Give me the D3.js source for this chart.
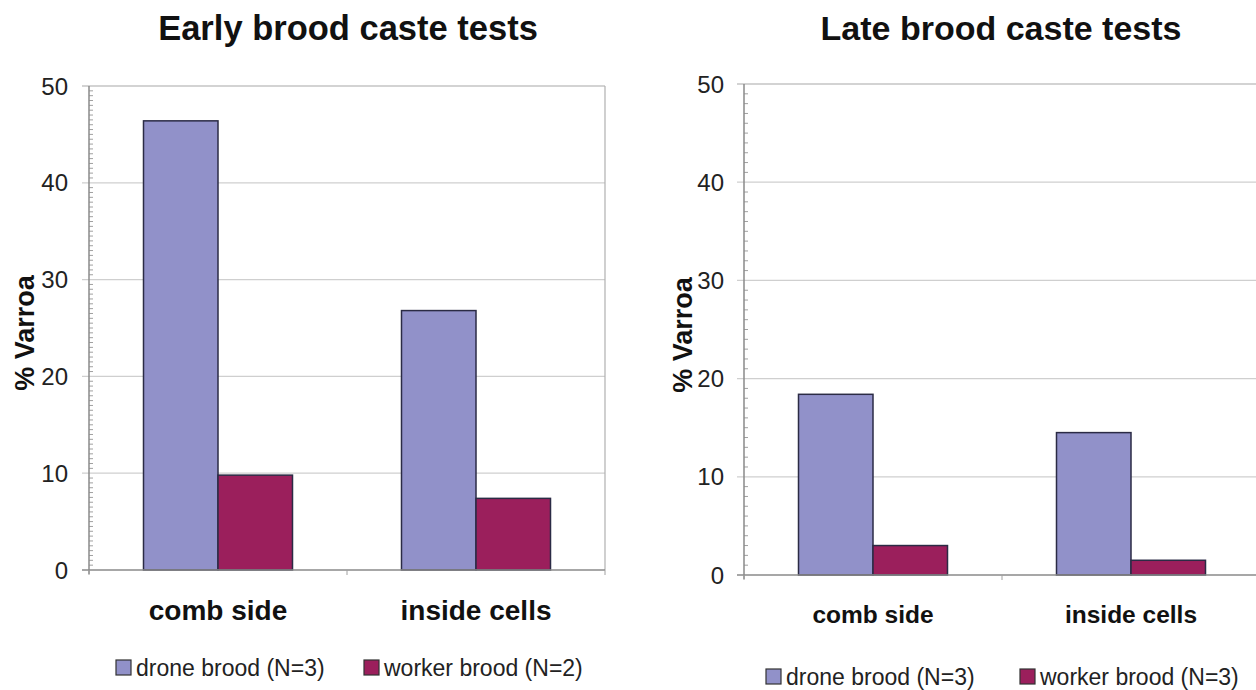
<!DOCTYPE html>
<html>
<head>
<meta charset="utf-8">
<script src="https://cdn.jsdelivr.net/npm/d3@7"></script>
<style>
  html, body { margin: 0; padding: 0; background: #fff; }
  svg { display: block; font-family: "Liberation Sans", Arial, sans-serif; }
</style>
</head>
<body>
<svg id="chart" width="1256" height="690"></svg>
<script>
// ---- data ----
const categories = ["comb side", "inside cells"];
const earlyTitle = "Early brood caste tests";
const lateTitle = "Late brood caste tests";
const earlySeriesNames = ["drone brood (N=3)", "worker brood (N=2)"];
const lateSeriesNames = ["drone brood (N=3)", "worker brood (N=3)"];
const earlyDrone = [46.4, 26.8];
const earlyWorker = [9.8, 7.4];
const lateDrone = [18.4, 14.5];
const lateWorker = [3.0, 1.5];
const yTicks = [0, 10, 20, 30, 40, 50];
const yLabel = "% Varroa";
const seriesColors = ["#9191c9", "#9b1f5c"];

const svg = d3.select("#chart");

function drawPanel(o) {
  const g = svg.append("g");
  const x = d3.scaleBand().domain(categories).range([o.left, o.right]).padding(0);
  const inner = d3.scaleBand().domain([0, 1]).range([0, x.bandwidth()])
    .paddingInner(0).paddingOuter(0.7315);
  const y = d3.scaleLinear().domain([0, 50]).range([o.bottom, o.top]);

  // gridlines (major)
  g.append("g").selectAll("line").data(yTicks.filter(t => t > 0)).join("line")
    .attr("x1", o.left - 7).attr("x2", o.right)
    .attr("y1", d => y(d)).attr("y2", d => y(d))
    .attr("stroke", d => d === 50 ? "#a8a8a8" : "#cfcfcf").attr("stroke-width", 1.2);

  // plot border right
  g.append("line").attr("x1", o.right).attr("x2", o.right)
    .attr("y1", o.top).attr("y2", o.bottom).attr("stroke", "#b0b0b0").attr("stroke-width", 1.2);

  // minor ticks
  const minor = d3.range(0, 50 + 1e-9, o.minorStep).filter(v => v % 10 !== 0);
  g.append("g").selectAll("line").data(minor).join("line")
    .attr("x1", o.left).attr("x2", o.left + 4)
    .attr("y1", d => y(d)).attr("y2", d => y(d))
    .attr("stroke", "#a0a0a0").attr("stroke-width", 1);

  // bars
  const seriesVals = [o.s1, o.s2];
  seriesVals.forEach((vals, si) => {
    g.append("g").selectAll("rect").data(categories).join("rect")
      .attr("x", (c) => x(c) + inner(si))
      .attr("width", inner.bandwidth())
      .attr("y", (c, i) => y(vals[i]))
      .attr("height", (c, i) => y(0) - y(vals[i]))
      .attr("fill", seriesColors[si])
      .attr("stroke", "#2b2b45").attr("stroke-width", 1.5);
  });

  // y axis line
  g.append("line").attr("x1", o.left).attr("x2", o.left)
    .attr("y1", o.top).attr("y2", o.bottom + 4).attr("stroke", "#8a8a8a").attr("stroke-width", 1.5);
  // x axis line
  g.append("line").attr("x1", o.left - 7).attr("x2", o.right)
    .attr("y1", o.bottom).attr("y2", o.bottom).attr("stroke", "#8a8a8a").attr("stroke-width", 1.5);
  // x category boundary ticks
  const bounds = [o.left, ...categories.map(c => x(c) + x.bandwidth())];
  g.append("g").selectAll("line").data(bounds).join("line")
    .attr("x1", d => d).attr("x2", d => d)
    .attr("y1", o.bottom).attr("y2", o.bottom + 5)
    .attr("stroke", "#a0a0a0").attr("stroke-width", 1);

  // y tick labels
  g.append("g").selectAll("text").data(yTicks).join("text")
    .attr("x", o.tickX).attr("y", d => y(d))
    .attr("dy", "0.36em").attr("text-anchor", "end")
    .attr("font-size", 24).attr("fill", "#222")
    .text(d => d);

  // y label
  g.append("text")
    .attr("transform", `translate(${o.yLabelX},${o.yLabelY}) rotate(-90)`)
    .attr("text-anchor", "middle").attr("font-weight", "bold")
    .attr("font-size", 27).attr("fill", "#111")
    .text(yLabel);

  // category labels
  g.append("g").selectAll("text").data(categories).join("text")
    .attr("x", c => x(c) + x.bandwidth() / 2).attr("y", o.catY)
    .attr("text-anchor", "middle").attr("font-weight", "bold")
    .attr("font-size", o.catSize).attr("fill", "#111")
    .text(c => c);

  // title
  g.append("text").attr("x", o.titleX).attr("y", 40)
    .attr("text-anchor", "middle").attr("font-weight", "bold")
    .attr("font-size", o.titleSize).attr("fill", "#111")
    .text(o.title);

  // legend
  o.names.forEach((name, i) => {
    const lx = o.legendX[i];
    g.append("rect").attr("x", lx).attr("y", o.legendY - 8)
      .attr("width", 15).attr("height", 15)
      .attr("fill", seriesColors[i]).attr("stroke", "#333").attr("stroke-width", 1.2);
    g.append("text").attr("x", lx + 20).attr("y", o.legendY)
      .attr("dy", "0.36em").attr("font-size", 23).attr("fill", "#222")
      .text(name);
  });
}

drawPanel({
  left: 89, right: 605, top: 86, bottom: 570,
  s1: earlyDrone, s2: earlyWorker, names: earlySeriesNames,
  title: earlyTitle, titleX: 348, titleSize: 34.5,
  tickX: 68, yLabelX: 34, yLabelY: 333,
  catY: 620, catSize: 28, minorStep: 0.5,
  legendX: [116, 364], legendY: 668
});

drawPanel({
  left: 744, right: 1260, top: 84, bottom: 575,
  s1: lateDrone, s2: lateWorker, names: lateSeriesNames,
  title: lateTitle, titleX: 1001, titleSize: 34,
  tickX: 724, yLabelX: 692, yLabelY: 335,
  catY: 623, catSize: 24.5, minorStep: 1,
  legendX: [766, 1020], legendY: 677
});
</script>
</body>
</html>
